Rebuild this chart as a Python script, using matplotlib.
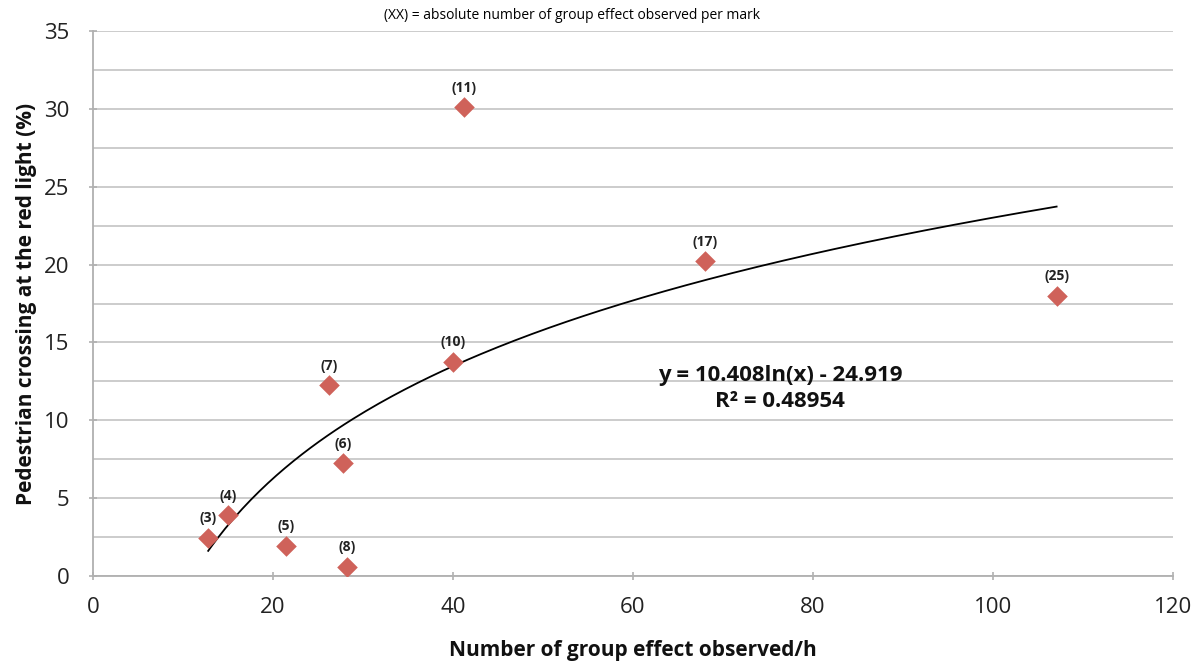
import numpy as np
import matplotlib.pyplot as plt

plt.rcParams['font.family'] = ['Open Sans', 'DejaVu Sans']

group_effect_per_h = [12.8, 15.0, 21.4, 28.2, 27.8, 26.2, 40.0, 41.2, 68.0, 107.1]
red_crossing_pct = [2.45, 3.9, 1.95, 0.6, 7.25, 12.25, 13.75, 30.1, 20.2, 18.0]
abs_counts = ['(3)', '(4)', '(5)', '(8)', '(6)', '(7)', '(10)', '(11)', '(17)', '(25)']
fit_a = 10.408
fit_b = -24.919
fit_r2 = 0.48954

fig = plt.figure(figsize=(12.02, 6.64), dpi=100)
ax = fig.add_axes([0.0774, 0.1325, 0.8982, 0.8208])

ax.set_xlim(0, 120)
ax.set_ylim(0, 35)
ax.set_xticks(np.arange(0, 121, 20))
ax.set_yticks(np.arange(0, 36, 5))
ax.set_yticks(np.arange(0, 36, 2.5), minor=True)
ax.grid(axis='y', which='both', color='#c8c8c8', lw=1.3)
ax.set_axisbelow(True)
for s in ['top', 'right']:
    ax.spines[s].set_visible(False)
for s in ['left', 'bottom']:
    ax.spines[s].set_color('#b0b0b0')
    ax.spines[s].set_linewidth(1.3)
ax.tick_params(axis='both', which='major', labelsize=16, labelcolor='#222222', color='#b0b0b0',
               length=6, width=1.2)
ax.tick_params(axis='x', direction='inout', pad=12)
ax.tick_params(axis='y', direction='inout', pad=14)
ax.tick_params(axis='y', which='minor', length=0)

xs = np.linspace(min(group_effect_per_h), max(group_effect_per_h), 200)
ax.plot(xs, fit_a * np.log(xs) + fit_b, color='black', lw=1.3, zorder=3)

ax.scatter(group_effect_per_h, red_crossing_pct, marker='D', s=110, color='#cf625a', zorder=4, linewidths=0)
for x, y, t in zip(group_effect_per_h, red_crossing_pct, abs_counts):
    ax.annotate(t, (x, y), xytext=(0, 9), textcoords='offset points', ha='center', va='bottom',
                fontsize=10, fontweight='bold', color='#222222')

ax.text(76.4, 12.05, f'y = {fit_a}ln(x) - {abs(fit_b)}\nR² = {fit_r2}', ha='center', va='center',
        fontsize=16, fontweight='bold', linespacing=1.35, color='#111111')

ax.set_xlabel('Number of group effect observed/h', fontsize=15, fontweight='bold', labelpad=16, color='#111111')
ax.set_ylabel('Pedestrian crossing at the red light (%)', fontsize=15, fontweight='bold', labelpad=5, color='#111111')
fig.text(0.476, 0.976, '(XX) = absolute number of group effect observed per mark', fontsize=10, ha='center', va='center')

fig.savefig('out.png', dpi=100)
